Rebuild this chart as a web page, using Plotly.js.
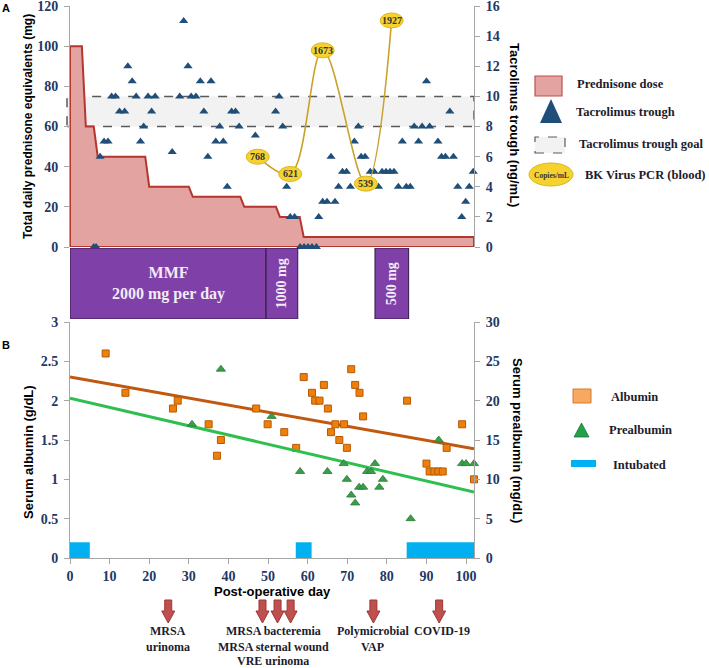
<!DOCTYPE html>
<html><head><meta charset="utf-8">
<script src="https://cdn.plot.ly/plotly-3.0.1.min.js"></script>
<style>html,body{margin:0;padding:0;background:#fff}#chart{width:709px;height:668px}</style>
</head><body><div id="chart"></div>
<script>
// ---------- DATA ----------
const prednDays = [0, 3, 4, 6, 7, 19, 20, 30, 31, 43, 44, 52, 53, 58, 59, 102];
const prednDose = [100, 100, 60, 60, 45, 45, 30, 30, 25, 25, 20, 20, 15, 15, 5, 5];

const tacDays = [6,6.6,7.6,8.6,9.6,10.5,11.5,12.5,13.8,14.6,15.7,16.7,17.8,18.6,19.7,20.6,21.5,25.8,27.7,28.7,29.8,30.6,31.8,32.9,33.8,34.8,35.6,36.8,37.8,38.7,39.7,40.8,41.8,42.7,46.8,51.9,52.8,53.7,54.7,55.6,56.7,58.1,59.1,60.1,61.1,62.2,62.8,63.8,64.9,65.9,66.9,67.8,68.8,69.8,70.8,71.8,72.8,73.5,74.5,75.8,76.8,77.9,78.8,79.8,80.8,81.8,82.9,83.9,84.9,85.9,86.9,88,88.9,90,90.8,92.9,93.8,94.8,95.9,96.8,97.9,98.9,99.9,100.8,101.8];
const tacLevel = [0,0,6,7,7,10,10,9,9,12,11,10,7,8,10,9,10,6.3,10,15,12,10,10,11,9,6,11,7,8,7,4,9,9,8,7.4,9,10,8,4,2,2,0,0,0,0,0,2,3,3,6,3,4,5,5,4,7,8,6,6,5,5,4,5,5,5,5,4,7,4,4,8,7,8,11,8,7,6,6,9,6,4,2,3,4,5];
const tacGoal = [8, 10];

const bkDays = [47.4, 55.6, 63.8, 74.7, 81.2];
const bkCopies = [768, 621, 1673, 539, 1927];

const mmfLabels = ["MMF<br>2000 mg per day", "1000 mg", "500 mg"];
const mmfStart = [0, 49.5, 77];
const mmfEnd = [49.5, 57.5, 85.5];

const albDays = [9,14,26,27.2,35,37.1,38.1,47,49.9,54.1,57.1,59,61.1,61.9,63,64.1,65.1,65.9,67,68,69.2,69.9,71,72,73.1,74,85.1,90,90.8,92,93,94.1,95.1,99,102];
const albVal = [2.6,2.1,1.9,2.0,1.7,1.3,1.5,1.9,1.7,1.6,1.4,2.3,2.1,2.0,2.0,2.2,1.9,1.6,1.7,1.5,1.7,1.4,2.4,2.2,2.1,1.8,2.0,1.2,1.1,1.1,1.1,1.1,1.4,1.7,1.0];
const albTrendDays = [0, 102];
const albTrendVal = [2.30, 1.39];

const preDays = [30.8,38.1,50.9,58.1,65,69.1,69.9,71,72,73,74,75,76,77,78.1,79,86,93.1,99,100,102];
const preVal = [17,24,18,11,11,12,10,8,7,9,9,11,11,12,9,10,5,15,12,12,12];
const preTrendDays = [0, 102];
const preTrendVal = [20.3, 8.4];

const intubStart = [0, 57, 85];
const intubEnd = [5, 61, 102];
const intubVal = [0.2, 0.2, 0.2];

const eventDays = [24.8, 48.6, 52.4, 55.7, 76.6, 93.2];
const eventLabels = [["MRSA", "urinoma"], ["MRSA bacteremia", "MRSA sternal wound", "VRE urinoma"], ["Polymicrobial", "VAP"], ["COVID-19"]];
const eventLabelDays = [24.7, 51.3, 76.4, 94.0];

const xTicks = [0,10,20,30,40,50,60,70,80,90,100];

// ---------- GEOMETRY HELPERS ----------
const W=709, H=668, ML=70, MR=235, MT=6, MB=110;
const PW=W-ML-MR, PH=H-MT-MB;
const px = x => (x-ML)/PW;
const py = y => (H-MB-y)/PH;

const SERIF = "Liberation Serif";
const SANS = "Liberation Sans";
const NAVY = "#1f3864";
const TXT = "#1c1c2c";

// ---------- TRACES ----------
const prednX = [0].concat(prednDays, [prednDays[prednDays.length-1], 0]);
const prednY = [0].concat(prednDose, [0, 0]);

const traces = [
  {x: prednX, y: prednY, xaxis:'x2', yaxis:'y3', type:'scatter', mode:'lines',
   fill:'toself', fillcolor:'#e3a3a1', line:{color:'#b3362f', width:2}, hoverinfo:'skip'},
  {x: tacDays, y: tacLevel, xaxis:'x2', yaxis:'y4', type:'scatter', mode:'markers',
   marker:{symbol:'triangle-up', size:8, color:'#1f4e79', line:{width:0}}, cliponaxis:false},
  {x: bkDays, y: bkCopies, xaxis:'x2', yaxis:'y5', type:'scatter', mode:'lines',
   line:{color:'#c9a227', width:1.6, shape:'spline', smoothing:1}, cliponaxis:false},
  {y: mmfStart.map(()=>0.5), x: mmfStart.map((s,i)=>mmfEnd[i]-s), base: mmfStart,
   orientation:'h', type:'bar', width: mmfStart.map(()=>1), xaxis:'x2', yaxis:'y6',
   marker:{color:'#7f40a8', line:{color:'#2e1a40', width:1}}},
  {x: intubStart.map((s,i)=>(s+intubEnd[i])/2), y: intubVal, width: intubStart.map((s,i)=>intubEnd[i]-s),
   type:'bar', xaxis:'x', yaxis:'y', marker:{color:'#00b0f0', line:{width:0}}},
  {x: albTrendDays, y: albTrendVal, xaxis:'x', yaxis:'y', type:'scatter', mode:'lines',
   line:{color:'#c0580f', width:3}},
  {x: preTrendDays, y: preTrendVal, xaxis:'x', yaxis:'y2', type:'scatter', mode:'lines',
   line:{color:'#2fbf4f', width:3}},
  {x: albDays, y: albVal, xaxis:'x', yaxis:'y', type:'scatter', mode:'markers',
   marker:{symbol:'square', size:7, color:'#f07f0a', line:{color:'#b45a08', width:1}}, cliponaxis:false},
  {x: preDays, y: preVal, xaxis:'x', yaxis:'y2', type:'scatter', mode:'markers',
   marker:{symbol:'triangle-up', size:8, color:'#3a9d48', line:{color:'#2c7a38', width:0.8}}, cliponaxis:false}
];

// ---------- SHAPES ----------
const shapes = [];
shapes.push({type:'rect', xref:'paper', yref:'y4', x0:px(67), x1:1, y0:tacGoal[0], y1:tacGoal[1],
  fillcolor:'#f2f2f2', line:{color:'#5a5a5a', width:1.5, dash:'dash'}, layer:'below'});
bkDays.forEach((d,i)=>{
  shapes.push({type:'circle', xref:'x2', yref:'y5', xsizemode:'pixel', ysizemode:'pixel',
    xanchor:d, yanchor:bkCopies[i], x0:-11.5, x1:11.5, y0:-7.5, y1:7.5,
    fillcolor:'#f5d230', line:{color:'#dcb520', width:1}});
});
eventDays.forEach(d=>{
  shapes.push({type:'path', xref:'x', yref:'paper', xsizemode:'pixel', ysizemode:'pixel',
    xanchor:d, yanchor:py(600),
    path:'M -3.5,0 L 3.5,0 L 3.5,-11 L 6.5,-11 L 0,-23 L -6.5,-11 L -3.5,-11 Z',
    fillcolor:'#c0504d', line:{color:'#9a3835', width:1}});
});
// top legend
shapes.push({type:'rect', xref:'paper', yref:'paper', x0:px(535), x1:px(562), y0:py(96), y1:py(76),
  fillcolor:'#e3a3a1', line:{color:'#c0504d', width:1.2}});
shapes.push({type:'path', xref:'paper', yref:'paper',
  path:`M ${px(551)},${py(99)} L ${px(562)},${py(123)} L ${px(540)},${py(123)} Z`,
  fillcolor:'#1f4e79', line:{width:0}});
shapes.push({type:'rect', xref:'paper', yref:'paper', x0:px(535), x1:px(565), y0:py(153), y1:py(137),
  fillcolor:'#f2f2f2', line:{color:'#5a5a5a', width:1.2, dash:'dash'}});
shapes.push({type:'circle', xref:'paper', yref:'paper', x0:px(529), x1:px(573), y0:py(186), y1:py(163),
  fillcolor:'#f5d230', line:{color:'#dcb520', width:1}});
// bottom legend
shapes.push({type:'rect', xref:'paper', yref:'paper', x0:px(573), x1:px(591), y0:py(403), y1:py(389),
  fillcolor:'#f8a860', line:{color:'#d27a2c', width:1}});
shapes.push({type:'path', xref:'paper', yref:'paper',
  path:`M ${px(581.5)},${py(423)} L ${px(589)},${py(437)} L ${px(574)},${py(437)} Z`,
  fillcolor:'#22a04a', line:{color:'#1c7a3a', width:0.8}});
shapes.push({type:'rect', xref:'paper', yref:'paper', x0:px(571), x1:px(596), y0:py(467), y1:py(460),
  fillcolor:'#00b0f0', line:{width:0}});

// ---------- ANNOTATIONS ----------
const ann = [];
const t = (text, x, y, o={}) => ann.push(Object.assign({text, x:px(x), y:py(y), xref:'paper', yref:'paper',
  showarrow:false, xanchor:'center', yanchor:'middle',
  font:{family:SERIF, size:12.5, color:TXT, weight:'bold'}}, o));

t('A', 6, 8, {font:{family:SANS, size:11, color:'#000', weight:'bold'}});
t('B', 6, 345, {font:{family:SANS, size:11, color:'#000', weight:'bold'}});
t('Total daily prednisone equivalents (mg)', 28, 127, {textangle:-90, font:{family:SANS, size:12, color:'#000', weight:'bold'}});
t('Tacrolimus trough (ng/mL)', 514, 125, {textangle:90, font:{family:SANS, size:13, color:'#000', weight:'bold'}});
t('Serum albumin (g/dL)', 28, 452, {textangle:-90, font:{family:SANS, size:13, color:'#000', weight:'bold'}});
t('Serum prealbumin (mg/dL)', 517, 440, {textangle:90, font:{family:SANS, size:13, color:'#000', weight:'bold'}});
t('Post-operative day', 272, 591, {font:{family:SANS, size:13, color:'#000', weight:'bold'}});

t('Prednisone dose', 575, 84, {xanchor:'left'});
t('Tacrolimus trough', 574, 112, {xanchor:'left'});
t('Tacrolimus trough goal', 577, 144, {xanchor:'left'});
t('BK Virus PCR (blood)', 583, 175, {xanchor:'left'});
t('Copies/mL', 551, 175, {font:{family:SERIF, size:7.5, color:'#333', weight:'bold'}});
t('Albumin', 609, 397, {xanchor:'left'});
t('Prealbumin', 607, 430, {xanchor:'left'});
t('Intubated', 611, 465, {xanchor:'left'});

mmfLabels.forEach((lab,i)=>{
  const mid = (mmfStart[i]+mmfEnd[i])/2;
  ann.push({text:lab, x:mid, y:0.5, xref:'x2', yref:'y6', showarrow:false,
    textangle: i===0 ? 0 : -90,
    font:{family:SERIF, size: i===0 ? 16 : 14, color:'#f2eaf6', weight:'bold'}});
});
bkDays.forEach((d,i)=>{
  ann.push({text:String(bkCopies[i]), x:d, y:bkCopies[i], xref:'x2', yref:'y5', showarrow:false,
    font:{family:SERIF, size:10, color:'#333', weight:'bold'}});
});
const lineY = [631, 646.5, 661];
eventLabels.forEach((lines,i)=>{
  lines.forEach((ln,j)=>{
    ann.push({text:ln, x:eventLabelDays[i], y:py(lineY[j]), xref:'x', yref:'paper', yanchor:'middle',
      showarrow:false, align:'center', font:{family:SERIF, size:12, color:TXT, weight:'bold'}});
  });
});

// ---------- LAYOUT ----------
const tickfont = {family:SERIF, size:14, color:NAVY, weight:'bold'};
const axBase = {showgrid:false, zeroline:false, showline:true, linecolor:'#a6a6a6', linewidth:1,
  ticks:'outside', ticklen:5, tickcolor:'#a6a6a6', tickfont, ticklabelstandoff:3,
  ticklabeloverflow:'allow', fixedrange:true};

const layout = {
  width:W, height:H, margin:{l:ML, r:MR, t:MT, b:MB, pad:0},
  paper_bgcolor:'#fff', plot_bgcolor:'rgba(0,0,0,0)', showlegend:false, barmode:'overlay',
  xaxis: Object.assign({}, axBase, {domain:[0,1], range:[0,102], anchor:'y', tickvals:xTicks, ticklabelstandoff:0}),
  yaxis: Object.assign({}, axBase, {domain:[0, py(322)], range:[0,3], dtick:0.5, anchor:'x'}),
  yaxis2: Object.assign({}, axBase, {overlaying:'y', side:'right', range:[0,30], dtick:5, anchor:'x'}),
  xaxis2: {domain:[0,1], range:[0,102], anchor:'y3', visible:false, fixedrange:true},
  yaxis3: Object.assign({}, axBase, {domain:[py(247), 1], range:[0,120], dtick:20, anchor:'x2'}),
  yaxis4: Object.assign({}, axBase, {overlaying:'y3', side:'right', range:[0,16], dtick:2, anchor:'x2'}),
  yaxis5: {overlaying:'y3', range:[0,2050], visible:false, anchor:'x2', fixedrange:true},
  yaxis6: {domain:[py(319), py(248)], range:[0,1], visible:false, anchor:'x2', fixedrange:true},
  shapes, annotations: ann
};

Plotly.newPlot('chart', traces, layout, {staticPlot:true, displayModeBar:false});
</script></body></html>
